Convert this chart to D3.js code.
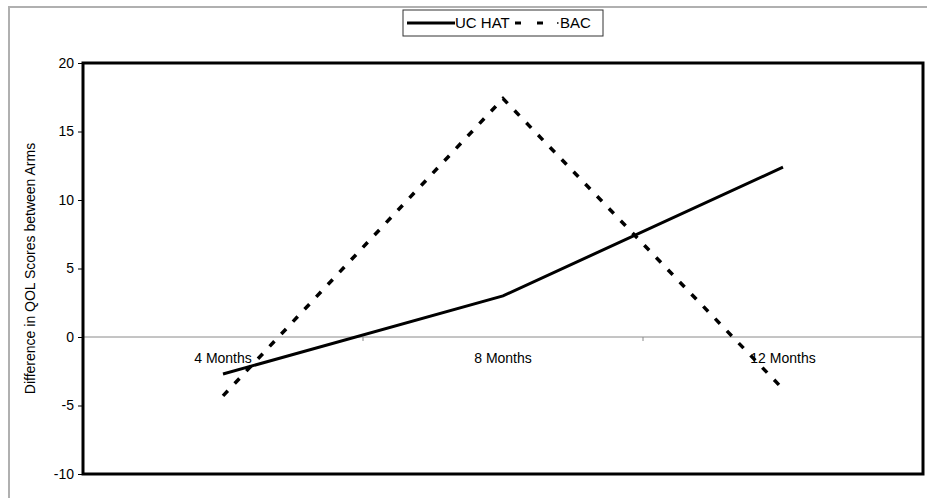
<!DOCTYPE html>
<html>
<head>
<meta charset="utf-8">
<script src="https://cdn.jsdelivr.net/npm/d3@7"></script>
<style>
  body { margin: 0; background: #fff; }
  text { font-family: "Liberation Sans", Arial, sans-serif; }
</style>
</head>
<body>
<div id="chart"></div>
<script>
// Data
const categories = ["4 Months", "8 Months", "12 Months"];
const ucHat = [-2.7, 3.0, 12.4];
const bac = [-4.3, 17.4, -3.8];
const yTicks = [-10, -5, 0, 5, 10, 15, 20];

const W = 927, H = 498;
const margin = { top: 63, right: 4, bottom: 24, left: 83 };
const width = W - margin.left - margin.right;
const height = H - margin.top - margin.bottom;

const root = d3.select("#chart").append("svg")
    .attr("width", W)
    .attr("height", H);

// outer chart frame (runs off the right/bottom edge)
root.append("rect")
    .attr("x", 9).attr("y", 7)
    .attr("width", W + 20).attr("height", H + 20)
    .attr("fill", "none")
    .attr("stroke", "#b0b0b0")
    .attr("stroke-width", 2);

const svg = root.append("g")
    .attr("transform", `translate(${margin.left},${margin.top})`);

// Scales
const x = d3.scaleBand().domain(categories).range([0, width]);
const y = d3.scaleLinear().domain([-10, 20]).range([height, 0]);

// Y axis
const yAxis = d3.axisLeft(y).tickValues(yTicks).tickSize(5).tickPadding(4)
    .tickFormat(d => String(d));
svg.append("g")
    .call(yAxis)
    .call(g => g.select(".domain").remove())
    .call(g => g.selectAll("line").attr("stroke", "#000"))
    .call(g => g.selectAll("text").attr("font-size", "14px").attr("fill", "#000"));

// category axis on zero line
svg.append("line")
    .attr("x1", 0).attr("x2", width)
    .attr("y1", y(0)).attr("y2", y(0))
    .attr("stroke", "#8a8a8a").attr("stroke-width", 1);

svg.selectAll(".cat-tick")
    .data(categories.slice(1))
    .enter().append("line")
    .attr("class", "cat-tick")
    .attr("x1", d => x(d)).attr("x2", d => x(d))
    .attr("y1", y(0)).attr("y2", y(0) + 4)
    .attr("stroke", "#8a8a8a");

svg.selectAll(".cat-label")
    .data(categories)
    .enter().append("text")
    .attr("class", "cat-label")
    .attr("x", d => x(d) + x.bandwidth() / 2)
    .attr("y", y(0) + 26)
    .attr("text-anchor", "middle")
    .attr("font-size", "14px")
    .attr("fill", "#000")
    .text(d => d);

// Lines
const line = d3.line()
    .x((d, i) => x(categories[i]) + x.bandwidth() / 2)
    .y(d => y(d));

svg.append("path")
    .datum(ucHat)
    .attr("d", line)
    .attr("fill", "none")
    .attr("stroke", "#000")
    .attr("stroke-width", 3);

svg.append("path")
    .datum(bac)
    .attr("d", line)
    .attr("fill", "none")
    .attr("stroke", "#000")
    .attr("stroke-width", 3.5)
    .attr("stroke-dasharray", "7,10");

// plot border
svg.append("rect")
    .attr("x", 0).attr("y", 0)
    .attr("width", width).attr("height", height)
    .attr("fill", "none")
    .attr("stroke", "#000")
    .attr("stroke-width", 3);

// Y axis title
svg.append("text")
    .attr("transform", `translate(${-48},${height / 2}) rotate(-90)`)
    .attr("text-anchor", "middle")
    .attr("font-size", "14px")
    .attr("fill", "#000")
    .text("Difference in QOL Scores between Arms");

// Legend
const legend = root.append("g").attr("transform", "translate(403,10)");
legend.append("rect")
    .attr("width", 200).attr("height", 26)
    .attr("fill", "#fff")
    .attr("stroke", "#333").attr("stroke-width", 1);
legend.append("line")
    .attr("x1", 4).attr("x2", 52).attr("y1", 13).attr("y2", 13)
    .attr("stroke", "#000").attr("stroke-width", 3);
legend.append("text")
    .attr("x", 52).attr("y", 18)
    .attr("font-size", "15px")
    .text("UC HAT");
legend.append("line")
    .attr("x1", 112).attr("x2", 140).attr("y1", 13).attr("y2", 13)
    .attr("stroke", "#000").attr("stroke-width", 3)
    .attr("stroke-dasharray", "6,16,6,40");
legend.append("line")
    .attr("x1", 154).attr("x2", 155.5).attr("y1", 13).attr("y2", 13)
    .attr("stroke", "#000").attr("stroke-width", 1.5);
legend.append("text")
    .attr("x", 157).attr("y", 18)
    .attr("font-size", "15px")
    .text("BAC");
</script>
</body>
</html>
